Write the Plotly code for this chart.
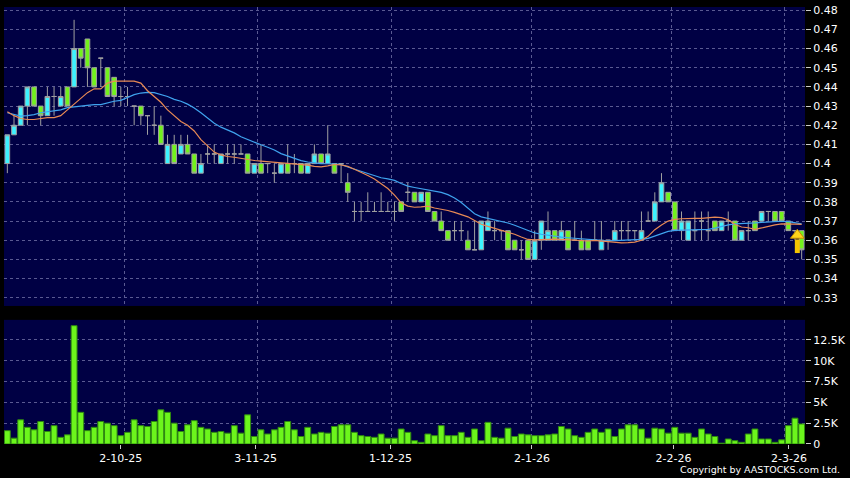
import plotly.graph_objects as go
from plotly.subplots import make_subplots

# daily OHLC (one bar per trading day)
opens = [0.400, 0.415, 0.420, 0.430, 0.440, 0.430, 0.425, 0.435, 0.430, 0.440,
         0.440, 0.460, 0.465, 0.450, 0.455, 0.450, 0.445, 0.435, 0.435, 0.430,
         0.430, 0.425, 0.420, 0.420, 0.400, 0.410, 0.405, 0.410, 0.405, 0.395,
         0.405, 0.405, 0.400, 0.405, 0.405, 0.405, 0.405, 0.395, 0.400, 0.400,
         0.395, 0.395, 0.400, 0.400, 0.400, 0.395, 0.400, 0.405, 0.400, 0.400,
         0.400, 0.390, 0.375, 0.375, 0.375, 0.375, 0.375, 0.375, 0.375, 0.380,
         0.385, 0.385, 0.380, 0.385, 0.375, 0.370, 0.365, 0.365, 0.365, 0.360,
         0.355, 0.355, 0.365, 0.365, 0.365, 0.365, 0.360, 0.355, 0.360, 0.350,
         0.360, 0.360, 0.365, 0.360, 0.365, 0.360, 0.360, 0.360, 0.360, 0.355,
         0.360, 0.360, 0.365, 0.365, 0.365, 0.360, 0.370, 0.370, 0.380, 0.385,
         0.380, 0.365, 0.360, 0.365, 0.370, 0.365, 0.370, 0.365, 0.370, 0.370,
         0.360, 0.365, 0.370, 0.370, 0.375, 0.375, 0.375, 0.370, 0.365, 0.365]
highs = [0.415, 0.425, 0.430, 0.440, 0.440, 0.430, 0.440, 0.440, 0.440, 0.440,
         0.475, 0.460, 0.465, 0.450, 0.455, 0.450, 0.445, 0.440, 0.440, 0.430,
         0.430, 0.425, 0.430, 0.425, 0.415, 0.415, 0.415, 0.415, 0.405, 0.405,
         0.410, 0.410, 0.405, 0.410, 0.410, 0.410, 0.405, 0.400, 0.410, 0.400,
         0.400, 0.400, 0.410, 0.405, 0.400, 0.400, 0.410, 0.405, 0.420, 0.400,
         0.400, 0.395, 0.380, 0.380, 0.385, 0.380, 0.385, 0.380, 0.380, 0.380,
         0.390, 0.385, 0.385, 0.385, 0.375, 0.375, 0.365, 0.370, 0.370, 0.365,
         0.370, 0.370, 0.375, 0.370, 0.365, 0.365, 0.360, 0.360, 0.360, 0.365,
         0.370, 0.375, 0.365, 0.370, 0.365, 0.370, 0.365, 0.360, 0.370, 0.370,
         0.360, 0.370, 0.370, 0.370, 0.365, 0.375, 0.375, 0.385, 0.395, 0.385,
         0.380, 0.375, 0.370, 0.375, 0.375, 0.375, 0.370, 0.370, 0.375, 0.370,
         0.365, 0.370, 0.370, 0.375, 0.375, 0.375, 0.375, 0.370, 0.365, 0.365]
lows = [0.395, 0.415, 0.420, 0.420, 0.430, 0.420, 0.425, 0.425, 0.430, 0.430,
        0.440, 0.450, 0.440, 0.440, 0.440, 0.435, 0.430, 0.430, 0.430, 0.420,
        0.420, 0.415, 0.415, 0.410, 0.400, 0.400, 0.405, 0.405, 0.395, 0.395,
        0.400, 0.400, 0.400, 0.400, 0.400, 0.405, 0.395, 0.395, 0.395, 0.395,
        0.390, 0.395, 0.395, 0.395, 0.395, 0.395, 0.400, 0.400, 0.400, 0.395,
        0.390, 0.380, 0.370, 0.370, 0.375, 0.375, 0.375, 0.375, 0.370, 0.375,
        0.380, 0.380, 0.380, 0.375, 0.370, 0.365, 0.360, 0.360, 0.360, 0.355,
        0.355, 0.355, 0.365, 0.360, 0.360, 0.355, 0.355, 0.350, 0.350, 0.350,
        0.355, 0.360, 0.360, 0.360, 0.355, 0.360, 0.355, 0.355, 0.360, 0.355,
        0.355, 0.360, 0.360, 0.360, 0.360, 0.360, 0.370, 0.370, 0.380, 0.380,
        0.365, 0.360, 0.360, 0.360, 0.360, 0.360, 0.365, 0.365, 0.365, 0.360,
        0.360, 0.360, 0.365, 0.370, 0.370, 0.370, 0.370, 0.365, 0.360, 0.350]
closes = [0.415, 0.420, 0.430, 0.440, 0.430, 0.425, 0.435, 0.435, 0.435, 0.430,
          0.460, 0.455, 0.450, 0.440, 0.455, 0.435, 0.435, 0.435, 0.435, 0.430,
          0.425, 0.425, 0.420, 0.410, 0.410, 0.400, 0.410, 0.405, 0.395, 0.400,
          0.405, 0.405, 0.405, 0.405, 0.405, 0.405, 0.395, 0.400, 0.395, 0.400,
          0.395, 0.400, 0.395, 0.400, 0.395, 0.400, 0.405, 0.400, 0.405, 0.395,
          0.400, 0.385, 0.375, 0.375, 0.375, 0.375, 0.375, 0.375, 0.375, 0.375,
          0.385, 0.380, 0.385, 0.375, 0.370, 0.365, 0.360, 0.365, 0.365, 0.355,
          0.355, 0.370, 0.370, 0.365, 0.365, 0.355, 0.355, 0.355, 0.350, 0.360,
          0.370, 0.365, 0.360, 0.365, 0.355, 0.360, 0.355, 0.355, 0.360, 0.360,
          0.360, 0.365, 0.365, 0.365, 0.365, 0.365, 0.370, 0.380, 0.390, 0.380,
          0.365, 0.370, 0.370, 0.365, 0.370, 0.365, 0.365, 0.370, 0.370, 0.360,
          0.365, 0.365, 0.365, 0.375, 0.375, 0.370, 0.370, 0.365, 0.365, 0.355]

# moving average lines as drawn on the chart
ma_short = [0.4270, 0.4250, 0.4235, 0.4230, 0.4230, 0.4235, 0.4240, 0.4240, 0.4250, 0.4280,
            0.4310, 0.4340, 0.4370, 0.4390, 0.4390, 0.4420, 0.4430, 0.4430, 0.4430, 0.4430,
            0.4420, 0.4380, 0.4350, 0.4320, 0.4280, 0.4250, 0.4220, 0.4200, 0.4170, 0.4125,
            0.4095, 0.4060, 0.4045, 0.4037, 0.4033, 0.4026, 0.4020, 0.4016, 0.4013, 0.4010,
            0.4008, 0.4005, 0.4003, 0.4000, 0.3998, 0.3992, 0.3985, 0.3983, 0.3988, 0.3995,
            0.3993, 0.3985, 0.3970, 0.3955, 0.3938, 0.3920, 0.3896, 0.3870, 0.3835, 0.3795,
            0.3778, 0.3772, 0.3774, 0.3778, 0.3768, 0.3762, 0.3755, 0.3745, 0.3735, 0.3722,
            0.3703, 0.3683, 0.3672, 0.3662, 0.3652, 0.3641, 0.3631, 0.3617, 0.3604, 0.3602,
            0.3604, 0.3607, 0.3606, 0.3604, 0.3602, 0.3598, 0.3595, 0.3596, 0.3599, 0.3595,
            0.3593, 0.3588, 0.3586, 0.3587, 0.3590, 0.3600, 0.3620, 0.3655, 0.3680, 0.3700,
            0.3709, 0.3712, 0.3714, 0.3714, 0.3714, 0.3718, 0.3720, 0.3718, 0.3707, 0.3682,
            0.3669, 0.3665, 0.3657, 0.3664, 0.3673, 0.3680, 0.3685, 0.3686, 0.3684, 0.3683]
ma_long = [0.4265, 0.4255, 0.4248, 0.4250, 0.4255, 0.4265, 0.4270, 0.4275, 0.4280, 0.4292,
           0.4296, 0.4300, 0.4305, 0.4308, 0.4308, 0.4318, 0.4325, 0.4330, 0.4345, 0.4360,
           0.4368, 0.4372, 0.4370, 0.4360, 0.4350, 0.4335, 0.4325, 0.4310, 0.4290, 0.4265,
           0.4238, 0.4210, 0.4190, 0.4175, 0.4160, 0.4140, 0.4125, 0.4112, 0.4098, 0.4085,
           0.4071, 0.4052, 0.4039, 0.4027, 0.4015, 0.4008, 0.4003, 0.4000, 0.3999, 0.3998,
           0.3996, 0.3982, 0.3970, 0.3961, 0.3948, 0.3935, 0.3926, 0.3920, 0.3912, 0.3896,
           0.3882, 0.3875, 0.3869, 0.3864, 0.3858, 0.3850, 0.3838, 0.3820, 0.3797, 0.3765,
           0.3738, 0.3722, 0.3714, 0.3706, 0.3698, 0.3690, 0.3678, 0.3665, 0.3651, 0.3638,
           0.3631, 0.3625, 0.3620, 0.3616, 0.3613, 0.3610, 0.3607, 0.3604, 0.3601, 0.3597,
           0.3597, 0.3598, 0.3599, 0.3600, 0.3601, 0.3604, 0.3610, 0.3622, 0.3637, 0.3646,
           0.3651, 0.3652, 0.3652, 0.3653, 0.3655, 0.3657, 0.3663, 0.3672, 0.3680, 0.3685,
           0.3686, 0.3688, 0.3690, 0.3693, 0.3696, 0.3699, 0.3699, 0.3697, 0.3690, 0.3685]

# volume in shares
volumes = [1600, 700, 2900, 2000, 1700, 2700, 1500, 2200, 800, 1100,
           14200, 3800, 1600, 2000, 2700, 2500, 2200, 1000, 1400, 2900,
           2200, 2100, 2700, 4100, 3800, 2500, 1500, 2300, 2800, 2000,
           1800, 1400, 1500, 1300, 2200, 1300, 3500, 900, 1700, 1200,
           1700, 2000, 2700, 1700, 900, 2000, 1200, 1400, 1300, 2100,
           2300, 2300, 1400, 1000, 900, 800, 1200, 700, 700, 1800,
           1400, 400, 200, 1200, 1000, 2200, 1000, 1000, 1400, 800,
           1800, 400, 2600, 800, 700, 1900, 900, 1200, 1100, 1000,
           1000, 1100, 1200, 2100, 1800, 1000, 800, 1400, 1800, 1400,
           1800, 900, 1800, 2300, 2300, 1800, 700, 1900, 1800, 1300,
           2000, 1300, 1300, 800, 1800, 1200, 900, 100, 600, 400,
           200, 1200, 1800, 600, 600, 200, 500, 2200, 3100, 2400]

bars = list(range(len(closes)))

# date labels (positions in bar units) and month boundaries for the grid
date_pos = [17.0, 37.2, 57.4, 78.6, 99.8, 117.1]
date_labels = ['2-10-25', '3-11-25', '1-12-25', '2-1-26', '2-2-26', '2-3-26']
month_starts = [17.5, 37.5, 57.5, 78.5, 99.5, 116.5]

price_ticks = [0.33, 0.34, 0.35, 0.36, 0.37, 0.38, 0.39, 0.40,
               0.41, 0.42, 0.43, 0.44, 0.45, 0.46, 0.47, 0.48]
price_labels = ['0.33', '0.34', '0.35', '0.36', '0.37', '0.38', '0.39', '0.4',
                '0.41', '0.42', '0.43', '0.44', '0.45', '0.46', '0.47', '0.48']
vol_ticks = [0, 2500, 5000, 7500, 10000, 12500]
vol_labels = ['0', '2.5K', '5K', '7.5K', '10K', '12.5K']

# signal arrow on the latest bars
signal_x = 118.35
signal_low = 0.3533
signal_neck = 0.3604
signal_head = 0.3626

BG = '#000044'
GRID = '#5a5a92'
FONT = 'DejaVu Sans'

fig = make_subplots(rows=2, cols=1, shared_xaxes=True)

fig.add_trace(go.Candlestick(
    x=bars, open=opens, high=highs, low=lows, close=closes,
    increasing=dict(fillcolor='#3cf2ff', line=dict(color='#a0a0a0', width=1)),
    decreasing=dict(fillcolor='#72f21c', line=dict(color='#a0a0a0', width=1)),
    whiskerwidth=0, showlegend=False, hoverinfo='skip'), row=1, col=1)

fig.add_trace(go.Scatter(x=bars, y=ma_long, mode='lines',
                         line=dict(color='#3fa3ee', width=1.2),
                         showlegend=False, hoverinfo='skip'), row=1, col=1)
fig.add_trace(go.Scatter(x=bars, y=ma_short, mode='lines',
                         line=dict(color='#e88a55', width=1.2),
                         showlegend=False, hoverinfo='skip'), row=1, col=1)

# yellow arrow marker
fig.add_trace(go.Scatter(x=[signal_x, signal_x], y=[signal_low, signal_neck], mode='lines',
                         line=dict(color='#f5c400', width=5),
                         showlegend=False, hoverinfo='skip'), row=1, col=1)
fig.add_trace(go.Scatter(x=[signal_x], y=[signal_head], mode='markers',
                         marker=dict(symbol='triangle-up', size=12, color='#ffd21a',
                                     line=dict(color='#c08a00', width=1)),
                         showlegend=False, hoverinfo='skip'), row=1, col=1)

fig.add_trace(go.Bar(x=bars, y=volumes,
                     marker=dict(color='#6cf51c', line=dict(color='#2f8a10', width=1)),
                     showlegend=False, hoverinfo='skip'), row=2, col=1)

axis_font = dict(family=FONT, size=11, color='#ffffff')
minor_grid = dict(tickmode='array', tickvals=month_starts, showgrid=True,
                  gridcolor=GRID, griddash='3px,3px', gridwidth=1, ticks='')

fig.update_layout(
    width=850, height=478,
    margin=dict(l=4, r=43, t=4, b=34),
    paper_bgcolor='#000000', plot_bgcolor=BG,
    font=dict(family=FONT, color='#ffffff'),
    boxgap=0.0, bargap=0.12,
    xaxis=dict(domain=[0, 1], range=[-0.5, 119.5], showgrid=False,
               showticklabels=False, ticks='', zeroline=False,
               rangeslider=dict(visible=False), minor=minor_grid),
    xaxis2=dict(domain=[0, 1], range=[-0.5, 119.5], showgrid=False,
                tickmode='array', tickvals=date_pos, ticktext=date_labels,
                ticks='outside', ticklen=4, tickcolor='#cccccc',
                tickfont=axis_font, zeroline=False, minor=minor_grid),
    yaxis=dict(domain=[0.3159, 1], range=[0.3257, 0.4817], side='right',
               tickmode='array', tickvals=price_ticks, ticktext=price_labels,
               ticks='outside', ticklen=5, tickcolor='#cccccc', tickfont=axis_font,
               showgrid=True, gridcolor=GRID, griddash='3px,3px', zeroline=False),
    yaxis2=dict(domain=[0, 0.2841], range=[0, 14900], side='right',
                tickmode='array', tickvals=vol_ticks, ticktext=vol_labels,
                ticks='outside', ticklen=5, tickcolor='#cccccc', tickfont=axis_font,
                showgrid=True, gridcolor=GRID, griddash='3px,3px', zeroline=False),
)

fig.add_annotation(text='Copyright by AASTOCKS.com Ltd.', xref='paper', yref='paper',
                   x=1.046, y=-0.059, xanchor='right', yanchor='middle', showarrow=False,
                   font=dict(family=FONT, size=9.5, color='#ffffff'))

# drop the default page margin so the figure sits at the window's corner
fig.write_html("out.html", config={'displayModeBar': False},
               post_script="document.body.style.margin='0';")
